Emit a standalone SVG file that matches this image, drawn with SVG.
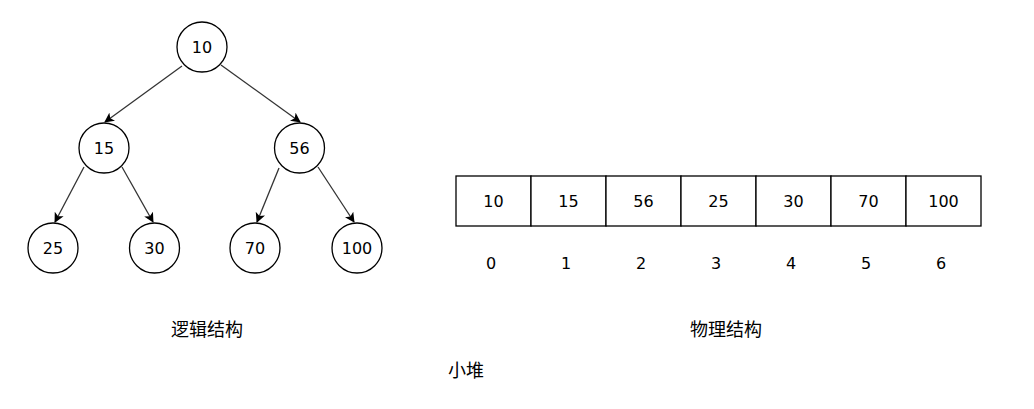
<svg xmlns="http://www.w3.org/2000/svg" width="1034" height="409" viewBox="0 0 1034 409">
<style>
.node{fill:#fff;stroke:#000;stroke-width:1.3}
.cell{fill:#fff;stroke:#000;stroke-width:1.3}
.t{font-family:"Comic Sans MS","DejaVu Sans",sans-serif;font-size:16px;fill:#000;text-anchor:middle;dominant-baseline:central}
.cjk{font-family:"Noto Sans CJK SC",sans-serif;font-size:18px;fill:#000;text-anchor:middle;dominant-baseline:central}
.edge{stroke:#333;stroke-width:1.3;fill:none;marker-end:url(#arr)}
</style>
<defs>
<marker id="arr" viewBox="0 0 10 10" refX="9" refY="5" markerWidth="10" markerHeight="10" markerUnits="userSpaceOnUse" orient="auto">
<path d="M0,0 L10,5 L0,10 L2.5,5 Z" fill="#000"/>
</marker>
</defs>
<g id="connectors">
<line class="edge" x1="182" y1="66" x2="105" y2="122"/>
<line class="edge" x1="221" y1="65" x2="300" y2="122"/>
<line class="edge" x1="84" y1="167" x2="55" y2="222"/>
<line class="edge" x1="122" y1="167" x2="153" y2="222"/>
<line class="edge" x1="279" y1="168" x2="257" y2="222"/>
<line class="edge" x1="318" y1="167" x2="354" y2="222"/>
</g>
<g id="n10"><circle class="node" cx="202" cy="47" r="25"/><text class="t" x="202" y="47">10</text></g>
<g id="n15"><circle class="node" cx="104" cy="148" r="25"/><text class="t" x="104" y="148">15</text></g>
<g id="n56"><circle class="node" cx="299.5" cy="148" r="25"/><text class="t" x="299.5" y="148">56</text></g>
<g id="n25"><circle class="node" cx="53" cy="248" r="25"/><text class="t" x="53" y="248">25</text></g>
<g id="n30"><circle class="node" cx="154.5" cy="248" r="25"/><text class="t" x="154.5" y="248">30</text></g>
<g id="n70"><circle class="node" cx="255" cy="248" r="25"/><text class="t" x="255" y="248">70</text></g>
<g id="n100"><circle class="node" cx="357" cy="248" r="25"/><text class="t" x="357" y="248">100</text></g>
<g id="array">
<rect class="cell" x="456" y="176" width="75" height="50"/>
<rect class="cell" x="531" y="176" width="75" height="50"/>
<rect class="cell" x="606" y="176" width="75" height="50"/>
<rect class="cell" x="681" y="176" width="75" height="50"/>
<rect class="cell" x="756" y="176" width="75" height="50"/>
<rect class="cell" x="831" y="176" width="75" height="50"/>
<rect class="cell" x="906" y="176" width="75" height="50"/>
<text class="t" x="493.5" y="201">10</text>
<text class="t" x="568.5" y="201">15</text>
<text class="t" x="643.5" y="201">56</text>
<text class="t" x="718.5" y="201">25</text>
<text class="t" x="793.5" y="201">30</text>
<text class="t" x="868.5" y="201">70</text>
<text class="t" x="943.5" y="201">100</text>
</g>
<g id="indices">
<text class="t" x="491" y="263">0</text>
<text class="t" x="566" y="263">1</text>
<text class="t" x="641" y="263">2</text>
<text class="t" x="716" y="263">3</text>
<text class="t" x="791" y="263">4</text>
<text class="t" x="866" y="263">5</text>
<text class="t" x="941" y="263">6</text>
</g>
<g id="labels">
<text class="cjk" x="207" y="328">逻辑结构</text>
<text class="cjk" x="726" y="328">物理结构</text>
<text class="cjk" x="466" y="369">小堆</text>
</g>
</svg>
